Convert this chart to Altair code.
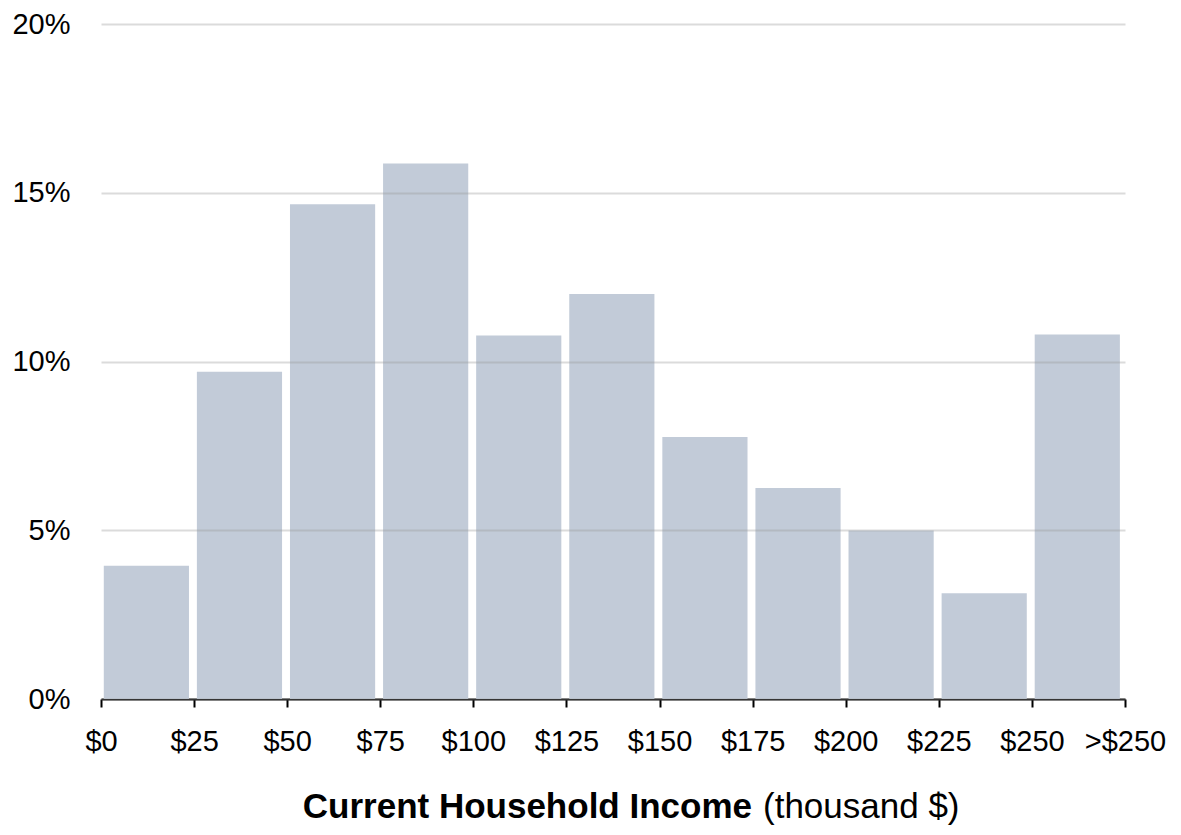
import altair as alt
import pandas as pd

tick_labels = ["$0", "$25", "$50", "$75", "$100", "$125", "$150", "$175", "$200", "$225", "$250", ">$250"]
bins = ["0-25", "25-50", "50-75", "75-100", "100-125", "125-150", "150-175", "175-200", "200-225", "225-250", ">250"]
shares = [3.95, 9.7, 14.66, 15.87, 10.77, 12.0, 7.76, 6.25, 4.99, 3.13, 10.8]

df = pd.DataFrame({"bin": bins, "idx": list(range(len(bins))), "share": [s / 100 for s in shares]})

label_expr = "[" + ",".join('"' + t + '"' for t in tick_labels) + "][datum.value]"

FONT = "Liberation Sans"

bars = alt.Chart(df).transform_calculate(
    x0="datum.idx + 0.03", x1="datum.idx + 0.945"
).mark_bar(color="#c2cbd8").encode(
    x=alt.X("x0:Q", scale=alt.Scale(domain=[0, 11], nice=False, zero=False),
            axis=alt.Axis(values=list(range(12)), labelExpr=label_expr, title=None,
                          grid=False, domainColor="#000000", domainWidth=2,
                          tickColor="#000000", tickWidth=2, tickSize=8,
                          labelFont=FONT, labelFontSize=29, labelColor="#000000",
                          labelPadding=20, labelOverlap=False, labelFlush=False,
                          labelBound=False)),
    x2="x1:Q",
    y=alt.Y("share:Q", scale=alt.Scale(domain=[0, 0.2], nice=False),
            axis=alt.Axis(values=[0, 0.05, 0.1, 0.15, 0.2], format=".0%", title=None,
                          domain=False, ticks=False, gridColor="#999999", gridWidth=2,
                          gridOpacity=0.35, labelFont=FONT, labelFontSize=29,
                          labelColor="#000000", labelPadding=31, zindex=1,
                          labelFlush=False)),
    y2=alt.datum(0),
)

title_bold = alt.Chart(pd.DataFrame({"t": ["Current Household Income"]})).mark_text(
    font=FONT, fontSize=35, fontWeight="bold", align="right", baseline="alphabetic", color="#000000"
).encode(text="t:N", x=alt.value(651), y=alt.value(794))

title_norm = alt.Chart(pd.DataFrame({"t": ["(thousand $)"]})).mark_text(
    font=FONT, fontSize=35, align="left", baseline="alphabetic", color="#000000"
).encode(text="t:N", x=alt.value(662), y=alt.value(794))

chart = alt.layer(bars, title_bold, title_norm).properties(
    width=1024, height=675,
    autosize=alt.AutoSizeParams(type="none"),
    padding={"left": 93, "top": 16, "right": 46, "bottom": 128},
).configure_view(stroke=None)

chart.save("out.html", embed_options={"renderer": "svg", "actions": False})
